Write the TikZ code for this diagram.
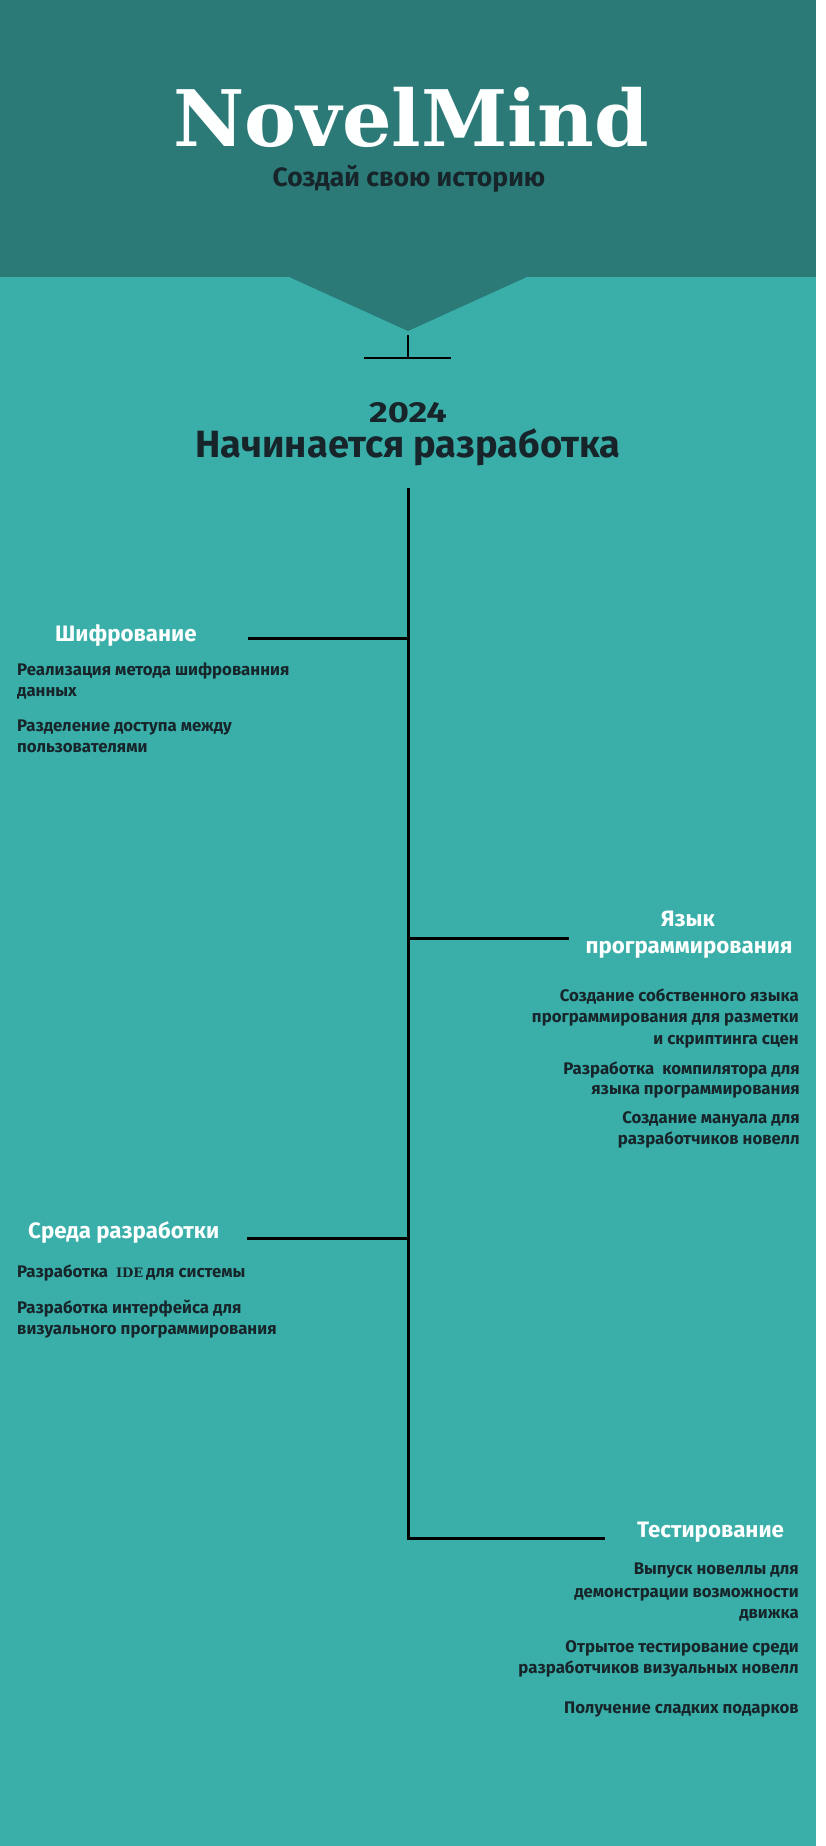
\documentclass[tikz,border=0pt]{standalone}
\usepackage{graphicx}
\usepackage{fontspec}
\setmainfont{Fira Sans}
\newfontfamily\slabfont{DejaVu Serif}
\definecolor{hdr}{HTML}{2B7A78}
\definecolor{bg}{HTML}{3AAFA9}
\definecolor{ink}{HTML}{17252A}
\definecolor{wht}{HTML}{FEFFFF}
\tikzset{
  bodytxt/.style={inner sep=0pt, text=ink, font=\fontsize{16.8}{20}\selectfont\bfseries},
  headtxt/.style={inner sep=0pt, text=wht, font=\fontsize{22.3}{26}\selectfont\bfseries},
  branch/.style={draw=black, line width=3pt},
  tline/.style={draw=black, line width=2.6pt}
}
\begin{document}
\begin{tikzpicture}[x=1pt,y=-1pt]
\useasboundingbox (0,0) rectangle (825,1846);
% backgrounds
\fill[white] (0,0) rectangle (825,1846);
\fill[bg] (0,0) rectangle (816,1846);
\fill[hdr] (0,0) rectangle (816,277);
\fill[hdr] (287,276) -- (408,331) -- (529,276) -- cycle;

% header texts
\node[inner sep=0pt, anchor=base, text=wht, font=\fontsize{78}{86}\slabfont\bfseries] (title) at (411,147) {NovelMind};
\node[inner sep=0pt, anchor=base, text=ink, font=\fontsize{26.5}{30}\selectfont\bfseries] (subtitle) at (409,187) {Создай свою историю};

% T symbol
\coordinate (tTop) at (408,335);
\coordinate (tMid) at (408,358);
\coordinate (tL) at (364,358);
\coordinate (tR) at (451,358);
\draw[tline] (tTop) -- (tMid);
\draw[tline] (tL) -- (tR);

\node[inner sep=0pt, anchor=base, text=ink, font=\fontsize{29}{32}\selectfont\bfseries] (year) at (408,422) {\scalebox{1.25}[1]{2024}};
\node[inner sep=0pt, anchor=base, text=ink, font=\fontsize{38}{44}\selectfont\bfseries] (start) at (408,457) {Начинается разработка};

% trunk and branches
\coordinate (trunkTop) at (408,488);
\coordinate (b1) at (408,638);
\coordinate (b2) at (408,938);
\coordinate (b3) at (408,1238);
\coordinate (trunkBot) at (408,1538);
\coordinate (e1) at (248,638);
\coordinate (e2) at (569,938);
\coordinate (e3) at (247,1238);
\coordinate (e4) at (605,1538);
\draw[branch, line join=miter] (trunkTop) -- (trunkBot) -- (e4);
\draw[branch] (b1) -- (e1);
\draw[branch] (b2) -- (e2);
\draw[branch] (b3) -- (e3);

% section 1
\node[headtxt, anchor=base west] (h1) at (55,641) {Шифрование};
\node[bodytxt, anchor=base west] (s1a) at (17,675) {Реализация метода шифрованния};
\node[bodytxt, anchor=base west] (s1b) at (17,696) {данных};
\node[bodytxt, anchor=base west] (s1c) at (17,731) {Разделение доступа между};
\node[bodytxt, anchor=base west] (s1d) at (17,752) {пользователями};

% section 2
\node[headtxt, anchor=base] (h2a) at (688,926) {Язык};
\node[headtxt, anchor=base] (h2b) at (689,953) {программирования};
\node[bodytxt, anchor=base east] (s2a) at (799,1001) {Создание собственного языка};
\node[bodytxt, anchor=base east] (s2b) at (799,1022) {программирования для разметки};
\node[bodytxt, anchor=base east] (s2c) at (799,1044) {и скриптинга сцен};
\node[bodytxt, anchor=base east] (s2d) at (800,1074) {Разработка\ \ компилятора для};
\node[bodytxt, anchor=base east] (s2e) at (800,1094) {языка программирования};
\node[bodytxt, anchor=base east] (s2f) at (800,1123) {Создание мануала для};
\node[bodytxt, anchor=base east] (s2g) at (800,1144) {разработчиков новелл};

% section 3
\node[headtxt, anchor=base west] (h3) at (28,1238) {Среда разработки};
\node[bodytxt, anchor=base west] (s3a) at (17,1277) {Разработка\ \ {\slabfont\fontsize{13}{16}\selectfont IDE}\,для системы};
\node[bodytxt, anchor=base west] (s3b) at (17,1313) {Разработка интерфейса для};
\node[bodytxt, anchor=base west] (s3c) at (17,1334) {визуального программирования};

% section 4
\node[headtxt, anchor=base west] (h4) at (637,1537) {Тестирование};
\node[bodytxt, anchor=base east] (s4a) at (799,1574) {Выпуск новеллы для};
\node[bodytxt, anchor=base east] (s4b) at (799,1597) {демонстрации возможности};
\node[bodytxt, anchor=base east] (s4c) at (799,1618) {движка};
\node[bodytxt, anchor=base east] (s4d) at (799,1652) {Отрытое тестирование среди};
\node[bodytxt, anchor=base east] (s4e) at (799,1673) {разработчиков визуальных новелл};
\node[bodytxt, anchor=base east] (s4f) at (799,1713) {Получение сладких подарков};
\end{tikzpicture}
\end{document}
